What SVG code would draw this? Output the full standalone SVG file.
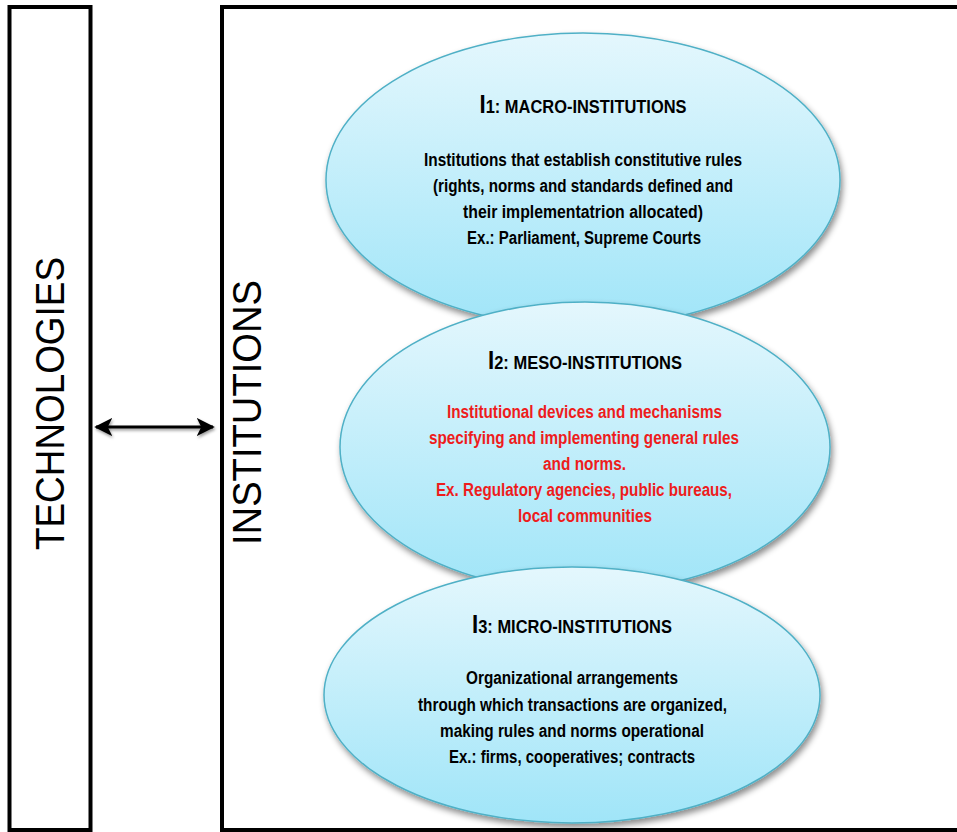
<svg xmlns="http://www.w3.org/2000/svg" width="957" height="832" viewBox="0 0 957 832">
<defs>
<style>
.box{fill:#fff;stroke:#000;stroke-width:4}
.ell{fill:url(#g);stroke:#4fb0c6;stroke-width:1.5;filter:url(#sh)}
.t{font-family:"Liberation Sans",Arial,sans-serif;font-weight:bold;font-size:18px;text-anchor:middle;fill:#000}
.h{font-size:18.5px}
.r{fill:#ee1c1c}
.big{font-size:25px}
.vt{font-family:"Liberation Sans",Arial,sans-serif;font-size:40px;fill:#000;text-anchor:middle}
</style>
<linearGradient id="g" x1="0" y1="0" x2="0" y2="1">
<stop offset="0" stop-color="#e4f7fd"/>
<stop offset="1" stop-color="#a0e5f8"/>
</linearGradient>
<filter id="sh" x="-10%" y="-10%" width="120%" height="130%">
<feDropShadow dx="2" dy="4" stdDeviation="3" flood-color="#000" flood-opacity="0.45"/>
</filter>
<filter id="ash" filterUnits="userSpaceOnUse" x="80" y="405" width="150" height="45">
<feDropShadow dx="1" dy="2" stdDeviation="1.5" flood-color="#000" flood-opacity="0.4"/>
</filter>
<marker id="ah" viewBox="0 0 10 10" refX="9" refY="5" markerWidth="6" markerHeight="6" orient="auto-start-reverse" markerUnits="strokeWidth">
<path d="M0,0 L10,5 L0,10 L2.5,5 Z" fill="#000"/>
</marker>
</defs>
<rect width="957" height="832" fill="#fff"/>
<g id="technologies">
<rect class="box" x="9.5" y="7" width="81" height="823"/>
<text class="vt" transform="translate(64,403.5) rotate(-90)" textLength="293" lengthAdjust="spacingAndGlyphs">TECHNOLOGIES</text>
</g>
<g id="institutions">
<rect class="box" x="222" y="7" width="745" height="823"/>
<text class="vt" transform="translate(261,412.5) rotate(-90)" textLength="265" lengthAdjust="spacingAndGlyphs">INSTITUTIONS</text>
</g>
<g id="connectors">
<line x1="96" y1="427" x2="213" y2="427" stroke="#000" stroke-width="3" marker-start="url(#ah)" marker-end="url(#ah)" filter="url(#ash)"/>
</g>
<g id="i1">
<ellipse class="ell" cx="583" cy="180" rx="257" ry="147"/>
<text class="t h" x="583" y="113" textLength="207" lengthAdjust="spacingAndGlyphs"><tspan class="big">I</tspan>1: MACRO-INSTITUTIONS</text>
<text class="t" x="583" y="166" textLength="318" lengthAdjust="spacingAndGlyphs">Institutions that establish constitutive rules</text>
<text class="t" x="583" y="192" textLength="300" lengthAdjust="spacingAndGlyphs">(rights, norms and  standards defined and</text>
<text class="t" x="583" y="218" textLength="240" lengthAdjust="spacingAndGlyphs">their implementatrion allocated)</text>
<text class="t" x="584" y="244" textLength="234" lengthAdjust="spacingAndGlyphs">Ex.: Parliament, Supreme Courts</text>
</g>
<g id="i2">
<ellipse class="ell" cx="585" cy="447" rx="245" ry="145"/>
<text class="t h" x="585" y="369" textLength="194" lengthAdjust="spacingAndGlyphs"><tspan class="big">I</tspan>2: MESO-INSTITUTIONS</text>
<text class="t r" x="584.5" y="418" textLength="275" lengthAdjust="spacingAndGlyphs">Institutional devices and mechanisms</text>
<text class="t r" x="584" y="444" textLength="310" lengthAdjust="spacingAndGlyphs">specifying and implementing general rules</text>
<text class="t r" x="584.5" y="470" textLength="83" lengthAdjust="spacingAndGlyphs">and norms.</text>
<text class="t r" x="584" y="496" textLength="296" lengthAdjust="spacingAndGlyphs">Ex. Regulatory agencies,  public bureaus,</text>
<text class="t r" x="585" y="522" textLength="134" lengthAdjust="spacingAndGlyphs">local communities</text>
</g>
<g id="i3">
<ellipse class="ell" cx="572" cy="695" rx="248" ry="128"/>
<text class="t h" x="572" y="633" textLength="200" lengthAdjust="spacingAndGlyphs"><tspan class="big">I</tspan>3: MICRO-INSTITUTIONS</text>
<text class="t" x="572" y="684" textLength="212" lengthAdjust="spacingAndGlyphs">Organizational arrangements</text>
<text class="t" x="572.5" y="711" textLength="309" lengthAdjust="spacingAndGlyphs">through which transactions are organized,</text>
<text class="t" x="572" y="737" textLength="264" lengthAdjust="spacingAndGlyphs">making rules and norms operational</text>
<text class="t" x="572" y="763" textLength="246" lengthAdjust="spacingAndGlyphs">Ex.: firms, cooperatives; contracts</text>
</g>
</svg>
